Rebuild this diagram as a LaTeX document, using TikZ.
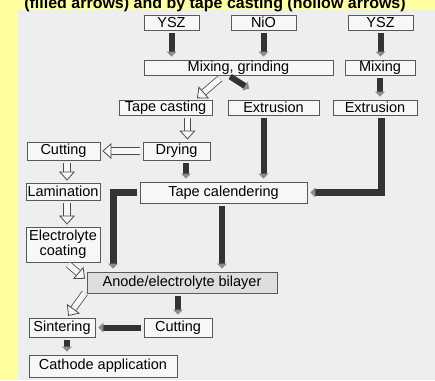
\documentclass[tikz,border=0pt]{standalone}
\usepackage{fontspec}
\setmainfont{Liberation Sans}
\usetikzlibrary{arrows.meta,calc}
\definecolor{bgyellow}{RGB}{255,255,160}
\definecolor{scangray}{RGB}{238,238,238}
\definecolor{boxfill}{RGB}{247,247,247}

\begin{document}
\begin{tikzpicture}[x=1pt,y=-1pt,
    box/.style={draw=black!65, line width=0.9pt, fill=boxfill, inner sep=0pt,
        font=\fontsize{14.5}{13}\selectfont},
    filledarr/.style={draw=black!80, line width=6pt, shorten <=3pt, shorten >=3pt,
        -{Triangle[width=10pt,length=5pt,color=black!45]}},
    hollowarr/.style={draw=black!70, line width=0.8pt, double=boxfill, double distance=5.5pt,
        shorten <=3pt, shorten >=2pt, -{Triangle[open,width=16pt,length=9pt,fill=boxfill]}}]
        % 背景
        \useasboundingbox (0,0) rectangle (435,380);
        \fill[bgyellow] (0,0) rectangle (435,380);
        \fill[scangray] (18,10) rectangle (435,380);

        % 标题 (上半部被裁掉)
        \node[font=\bfseries\fontsize{16}{16}\selectfont, anchor=base] (title) at (215,8.5)
            {(filled arrows) and by tape casting (hollow arrows)};

        % 原料
        \node[box, minimum width=55, minimum height=15] (ysza) at (171.5,22.5) {YSZ};
        \node[box, minimum width=65, minimum height=15] (nio) at (263.5,22.5) {NiO};
        \node[box, minimum width=65, minimum height=15] (yszb) at (380.5,22.5) {YSZ};

        % 混合
        \node[box, minimum width=189, minimum height=15] (mixgr) at (238.5,67.5) {Mixing, grinding};
        \node[box, minimum width=70, minimum height=15] (mix) at (380,67.5) {Mixing};

        % 成型
        \node[box, minimum width=93, minimum height=15] (tapecast) at (165.5,107.5) {Tape casting};
        \node[box, minimum width=91, minimum height=15] (extra) at (273.5,107.5) {Extrusion};
        \node[box, minimum width=84, minimum height=15] (extrb) at (375,107.5) {Extrusion};

        % 中间步骤
        \node[box, minimum width=73, minimum height=18] (cuta) at (63.5,151) {Cutting};
        \node[box, minimum width=67, minimum height=18] (dry) at (176.5,151) {Drying};
        \node[box, minimum width=74, minimum height=17] (lam) at (63,191.5) {Lamination};
        \node[box, minimum width=167, minimum height=21] (cal) at (223.5,192.5) {Tape calendering};
        \node[box, minimum width=74, minimum height=35, align=center] (elec) at (63,244.5) {Electrolyte\\coating};

        % 双层及后处理
        \node[box, minimum width=190, minimum height=21, fill=black!13] (bil) at (182,282.5) {Anode/electrolyte bilayer};
        \node[box, minimum width=66, minimum height=19] (sint) at (62,327.5) {Sintering};
        \node[box, minimum width=68, minimum height=19] (cutb) at (178,327.5) {Cutting};
        \node[box, minimum width=148, minimum height=22] (cath) at (103,366) {Cathode application};

        % 实心箭头 (挤出/压延)
        \draw[filledarr] (ysza.south) -- (ysza.south |- mixgr.north);
        \draw[filledarr] (nio.south) -- (nio.south |- mixgr.north);
        \draw[filledarr] (yszb.south) -- (yszb.south |- mix.north);
        \draw[filledarr] (mix.south) -- (mix.south |- extrb.north);
        \draw[filledarr, shorten <=2pt, shorten >=20pt] ([xshift=-10pt]mixgr.south) -- ([xshift=-7.5pt]extra.north);
        \draw[filledarr] ([xshift=-10pt]extra.south) -- ([xshift=-10pt]extra.south |- cal.north);
        \draw[filledarr, line width=7pt] ([xshift=6pt]extrb.south) |- (cal.east);
        \draw[filledarr] ([xshift=9.5pt]dry.south) -- ([xshift=9.5pt]dry.south |- cal.north);
        \draw[filledarr] ([xshift=-1.5pt]cal.south) -- ([xshift=-1.5pt]cal.south |- bil.north);
        \draw[filledarr, line width=7pt] (cal.west) -| ([xshift=-69pt]bil.north);
        \draw[filledarr] (bil.south -| cutb.north) -- (cutb.north);
        \draw[filledarr] (cutb.west) -- (sint.east);
        \draw[filledarr] ([xshift=5pt]sint.south) -- ([xshift=5pt]sint.south |- cath.north);

        % 空心箭头 (流延)
        \draw[hollowarr, shorten <=5pt] ([xshift=-15pt]mixgr.south) -- ([xshift=30pt]tapecast.north);
        \draw[hollowarr] ([xshift=22pt]tapecast.south) -- ([xshift=22pt]tapecast.south |- dry.north);
        \draw[hollowarr] (dry.west) -- (cuta.east);
        \draw[hollowarr] ([xshift=3.5pt]cuta.south) -- ([xshift=3.5pt]cuta.south |- lam.north);
        \draw[hollowarr] ([xshift=4pt]lam.south) -- ([xshift=4pt]lam.south |- elec.north);
        \draw[hollowarr] ([xshift=3pt]elec.south) -- ([yshift=2.5pt]bil.west);
        \draw[hollowarr] ([yshift=-8pt]bil.west) -- ([xshift=5pt]sint.north);
    \end{tikzpicture}
\end{document}
